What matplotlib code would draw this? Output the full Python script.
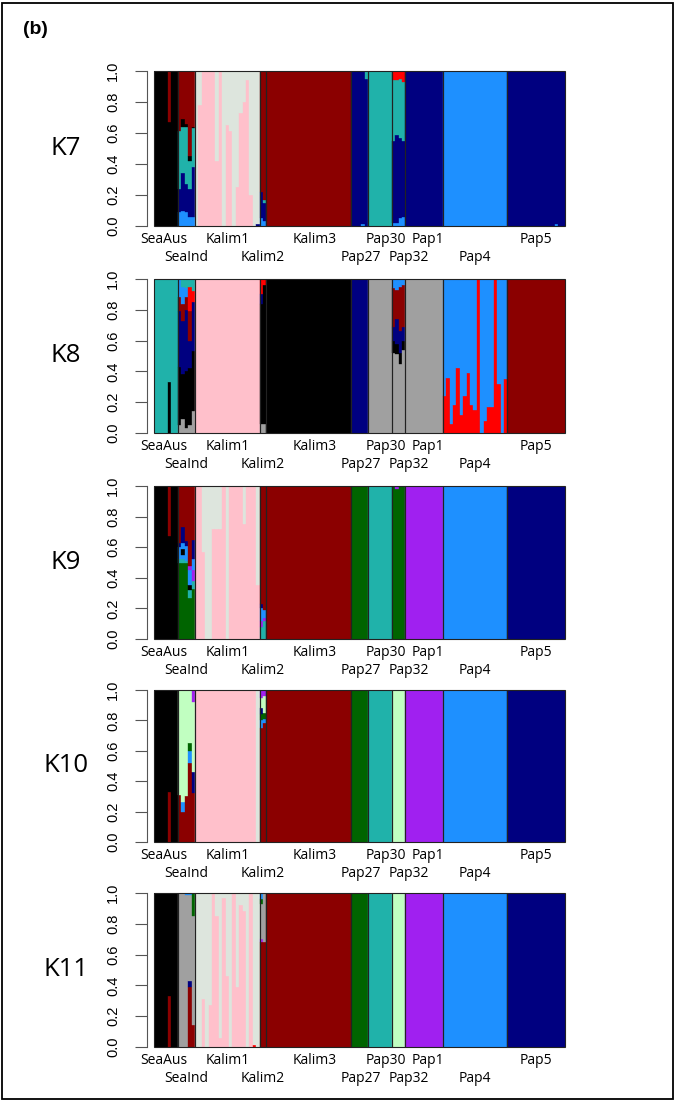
import numpy as np
import matplotlib.pyplot as plt
from matplotlib.patches import Rectangle

POPS = ["SeaAus", "SeaInd", "Kalim1", "Kalim2", "Kalim3", "Pap27",
        "Pap30", "Pap32", "Pap1", "Pap4", "Pap5"]
N_IND = [7, 5, 19, 2, 25, 5, 7, 4, 11, 19, 17]

COLS = {"k": "#000000", "dr": "#8B0000", "sg": "#20B2AA", "nv": "#000080",
        "db": "#1E90FF", "pk": "#FFC0CB", "gg": "#DDE5DD", "rd": "#FF0000",
        "gy": "#A0A0A0", "dg": "#006400", "pu": "#A020F0", "lg": "#C1FFC1"}

# K = 7 ------------------------------------------------------------
K7_MAIN = ["k", "dr", "gg", "dr", "dr", "nv", "sg", "sg", "nv", "db", "nv"]
K7_PINK = [0.0, 0.78, 1.0, 1.0, 1.0, 1.0, 0.42, 1.0, 0.0, 0.65, 0.61, 0.0,
           0.25, 0.73, 0.8, 0.94, 0.2, 0.0, 0.0]
K7_MIX = [
    ("SeaAus", 4, [("k", .67), ("dr", 1)]),
    ("SeaInd", 0, [("db", .09), ("nv", .24), ("sg", .61), ("dr", 1)]),
    ("SeaInd", 1, [("db", .10), ("nv", .34), ("sg", .64), ("k", .69), ("dr", 1)]),
    ("SeaInd", 2, [("db", .09), ("nv", .27), ("sg", .64), ("k", .66), ("dr", 1)]),
    ("SeaInd", 3, [("db", .06), ("nv", .24), ("sg", .42), ("k", .45), ("dr", 1)]),
    ("SeaInd", 4, [("db", .06), ("nv", .38), ("sg", .63), ("k", .64), ("dr", 1)]),
    ("Kalim1", 18, [("nv", .01), ("gg", 1)]),
    ("Kalim2", 0, [("db", .05), ("nv", .22), ("dr", 1)]),
    ("Kalim2", 1, [("db", .03), ("nv", .15), ("sg", .17), ("dr", 1)]),
    ("Pap27", 3, [("db", .01), ("nv", 1)]),
    ("Pap27", 4, [("nv", .95), ("sg", 1)]),
    ("Pap32", 0, [("db", .02), ("nv", .55), ("sg", .94), ("rd", 1)]),
    ("Pap32", 1, [("db", .02), ("nv", .59), ("sg", .94), ("rd", 1)]),
    ("Pap32", 2, [("db", .05), ("nv", .57), ("sg", .95), ("rd", 1)]),
    ("Pap32", 3, [("db", .06), ("nv", .55), ("sg", .93), ("rd", 1)]),
    ("Pap5", 14, [("db", .01), ("nv", 1)]),
]

# K = 8 ------------------------------------------------------------
K8_MAIN = ["sg", "k", "pk", "k", "k", "nv", "gy", "gy", "gy", "db", "dr"]
K8_PAP4_RED = [0.24, 0.36, 0.06, 0.18, 0.42, 0.12, 0.24, 0.39, 0.18, 0.15,
               1.0, 0.0, 0.08, 0.17, 0.17, 1.0, 0.32, 0.0, 0.35]
K8_MIX = [
    ("SeaAus", 4, [("k", .33), ("sg", 1)]),
    ("SeaInd", 0, [("gy", .05), ("k", .43), ("nv", .79), ("dr", .88), ("db", 1)]),
    ("SeaInd", 1, [("gy", .09), ("k", .38), ("nv", .73), ("dr", .84), ("db", .95), ("sg", 1)]),
    ("SeaInd", 2, [("gy", .03), ("k", .40), ("nv", .80), ("dr", .88), ("db", .94), ("sg", 1)]),
    ("SeaInd", 3, [("gy", .05), ("k", .42), ("nv", .60), ("dr", .79), ("rd", .95), ("sg", 1)]),
    ("SeaInd", 4, [("gy", .14), ("k", .53), ("nv", .85), ("rd", .92), ("sg", 1)]),
    ("Kalim2", 0, [("gy", .06), ("k", .84), ("nv", .90), ("rd", 1)]),
    ("Kalim2", 1, [("gy", .06), ("k", .96), ("rd", 1)]),
    ("Pap32", 0, [("gy", .52), ("k", .60), ("nv", .69), ("dr", .94), ("db", 1)]),
    ("Pap32", 1, [("gy", .51), ("k", .58), ("nv", .74), ("dr", .93), ("db", 1)]),
    ("Pap32", 2, [("gy", .45), ("k", .52), ("nv", .66), ("dr", .95), ("db", 1)]),
    ("Pap32", 3, [("gy", .54), ("k", .60), ("nv", .69), ("dr", .96), ("db", 1)]),
]

# K = 9 ------------------------------------------------------------
K9_MAIN = ["k", "dr", "pk", "dr", "dr", "dg", "sg", "dg", "pu", "db", "nv"]
K9_PINK = [1.0, 1.0, 0.57, 0.0, 0.0, 0.72, 0.72, 0.72, 1.0, 0.0, 1.0, 1.0,
           1.0, 1.0, 0.75, 1.0, 1.0, 1.0, 0.35]
K9_MIX = [
    ("SeaAus", 4, [("k", .67), ("dr", 1)]),
    ("SeaInd", 0, [("dg", .50), ("sg", .52), ("db", .60), ("nv", .63), ("dr", 1)]),
    ("SeaInd", 1, [("dg", .50), ("sg", .52), ("db", .55), ("k", .59), ("db", .63), ("nv", .73), ("dr", 1)]),
    ("SeaInd", 2, [("dg", .50), ("sg", .51), ("db", .61), ("nv", .64), ("dr", 1)]),
    ("SeaInd", 3, [("dg", .27), ("sg", .32), ("k", .35), ("db", .45), ("pu", .48), ("dr", 1)]),
    ("SeaInd", 4, [("dg", .33), ("sg", .38), ("pu", .45), ("db", .52), ("nv", .65), ("dr", 1)]),
    ("Kalim2", 0, [("sg", .08), ("pu", .12), ("db", .20), ("nv", .23), ("dr", 1)]),
    ("Kalim2", 1, [("sg", .12), ("pu", .14), ("db", .19), ("dr", 1)]),
    ("Pap32", 1, [("dg", .98), ("pu", 1)]),
]

# K = 10 -----------------------------------------------------------
K10_MAIN = ["k", "lg", "pk", "dr", "dr", "dg", "sg", "lg", "pu", "db", "nv"]
K10_MIX = [
    ("SeaAus", 4, [("dr", .33), ("k", 1)]),
    ("SeaInd", 0, [("dr", .31), ("lg", 1)]),
    ("SeaInd", 1, [("dr", .20), ("db", .26), ("lg", 1)]),
    ("SeaInd", 2, [("dr", .30), ("lg", 1)]),
    ("SeaInd", 3, [("dr", .52), ("db", .60), ("dg", .65), ("lg", 1)]),
    ("SeaInd", 4, [("dr", .32), ("nv", .46), ("lg", .92), ("pu", 1)]),
    ("Kalim1", 18, [("gg", 1)]),
    ("Kalim2", 0, [("dr", .75), ("db", .80), ("dg", .84), ("nv", .88), ("lg", .95), ("pu", 1)]),
    ("Kalim2", 1, [("dr", .78), ("db", .81), ("dg", .85), ("lg", .96), ("pu", 1)]),
]

# K = 11 -----------------------------------------------------------
K11_MAIN = ["k", "gy", "gg", "dr", "dr", "dg", "sg", "lg", "pu", "db", "nv"]
K11_PINK = [0.0, 0.0, 0.31, 0.0, 0.27, 1.0, 0.85, 0.06, 0.97, 0.46, 0.0, 1.0,
            0.39, 0.92, 0.88, 0.0, 1.0, 0.0, 0.0]
K11_MIX = [
    ("SeaAus", 4, [("dr", .33), ("k", 1)]),
    ("SeaInd", 2, [("gy", .99), ("db", 1)]),
    ("SeaInd", 3, [("dr", .39), ("nv", .43), ("gy", .99), ("db", 1)]),
    ("SeaInd", 4, [("dr", .14), ("gy", .85), ("dg", 1)]),
    ("Kalim1", 17, [("rd", .01), ("gg", 1)]),
    ("Kalim2", 0, [("dr", .68), ("pu", .70), ("gy", .93), ("dg", .96), ("db", 1)]),
    ("Kalim2", 1, [("dr", .68), ("gy", 1)]),
]

PANELS = [
    ("K7", K7_MAIN, K7_MIX, K7_PINK, None),
    ("K8", K8_MAIN, K8_MIX, None, K8_PAP4_RED),
    ("K9", K9_MAIN, K9_MIX, K9_PINK, None),
    ("K10", K10_MAIN, K10_MIX, None, None),
    ("K11", K11_MAIN, K11_MIX, K11_PINK, None),
]
# top / bottom of each panel in pixels
PANEL_PX = [(71, 226), (279, 433), (486, 639), (690, 842), (893, 1047)]
# small horizontal shifts (points) of the population names
LABEL_NUDGE = [-2, 0, 0, 0, 4, 1, 4, 7, 3, 0, 0]

W, H = 675, 1101
start = np.concatenate([[0], np.cumsum(N_IND)])
total = start[-1]


def build_rows(main, mix, pink, red):
    rows = [[(m, 1.0)] for m, n in zip(main, N_IND) for _ in range(n)]
    if pink is not None:
        for i, v in enumerate(pink):
            rows[start[2] + i] = [("pk", v), ("gg", 1.0)]
    if red is not None:
        for i, v in enumerate(red):
            rows[start[9] + i] = [("rd", v), ("db", 1.0)]
    for pop, i, tops in mix:
        rows[start[POPS.index(pop)] + i] = tops
    return rows


fig = plt.figure(figsize=(W / 100, H / 100), dpi=100)

for (name, main, mix, pink, red), (top, bot) in zip(PANELS, PANEL_PX):
    ax = fig.add_axes([154.3 / W, 1 - bot / H, 410.7 / W, (bot - top) / H])
    rows = build_rows(main, mix, pink, red)
    xs, hs, bs, cs = [], [], [], []
    for j, row in enumerate(rows):
        prev = 0.0
        for c, t in row:
            if t - prev > 0:
                xs.append(j + 0.5)
                hs.append(t - prev)
                bs.append(prev)
                cs.append(COLS[c])
            prev = t
    ax.bar(xs, hs, bottom=bs, width=1.0, color=cs, edgecolor=cs, linewidth=0.25)
    for s, n in zip(start[:-1], N_IND):
        ax.add_patch(Rectangle((s, 0), n, 1, fill=False, ec="#222222", lw=0.8,
                               clip_on=False))
    ax.set_xlim(0, total)
    ax.set_ylim(0, 1)
    for sp in ["top", "right", "bottom"]:
        ax.spines[sp].set_visible(False)
    ax.spines["left"].set_position(("outward", 5.5))
    ax.spines["left"].set_color("#555555")
    ax.set_xticks([])
    ax.set_yticks(np.arange(0, 1.01, 0.2))
    ax.set_yticklabels([f"{v:.1f}" for v in np.arange(0, 1.01, 0.2)],
                       rotation=90, va="center", family="Liberation Sans")
    ax.tick_params(axis="y", length=9, width=0.8, pad=10, labelsize=10.5,
                   color="#555555")
    for k, (p, s, n) in enumerate(zip(POPS, start[:-1], N_IND)):
        off = -9.5 if k % 2 == 0 else -23
        ax.annotate(p, xy=(s + n / 2, 0), xycoords=("data", "axes fraction"),
                    xytext=(LABEL_NUDGE[k], off), textcoords="offset points",
                    ha="center", va="center", fontsize=10, family="Open Sans")
    fig.text(66 / W, 1 - (top + bot) / 2 / H, name, fontsize=18.5,
             family="Open Sans", ha="center", va="center")

fig.text(23 / W, 1 - 30 / H, "(b)", fontsize=14, fontweight="bold",
         family="Liberation Sans", va="center")
fig.add_artist(Rectangle((0.003, 0.002), 0.994, 0.995, transform=fig.transFigure,
                         fill=False, lw=1.3, ec="black"))

fig.savefig("out.png", dpi=100)
